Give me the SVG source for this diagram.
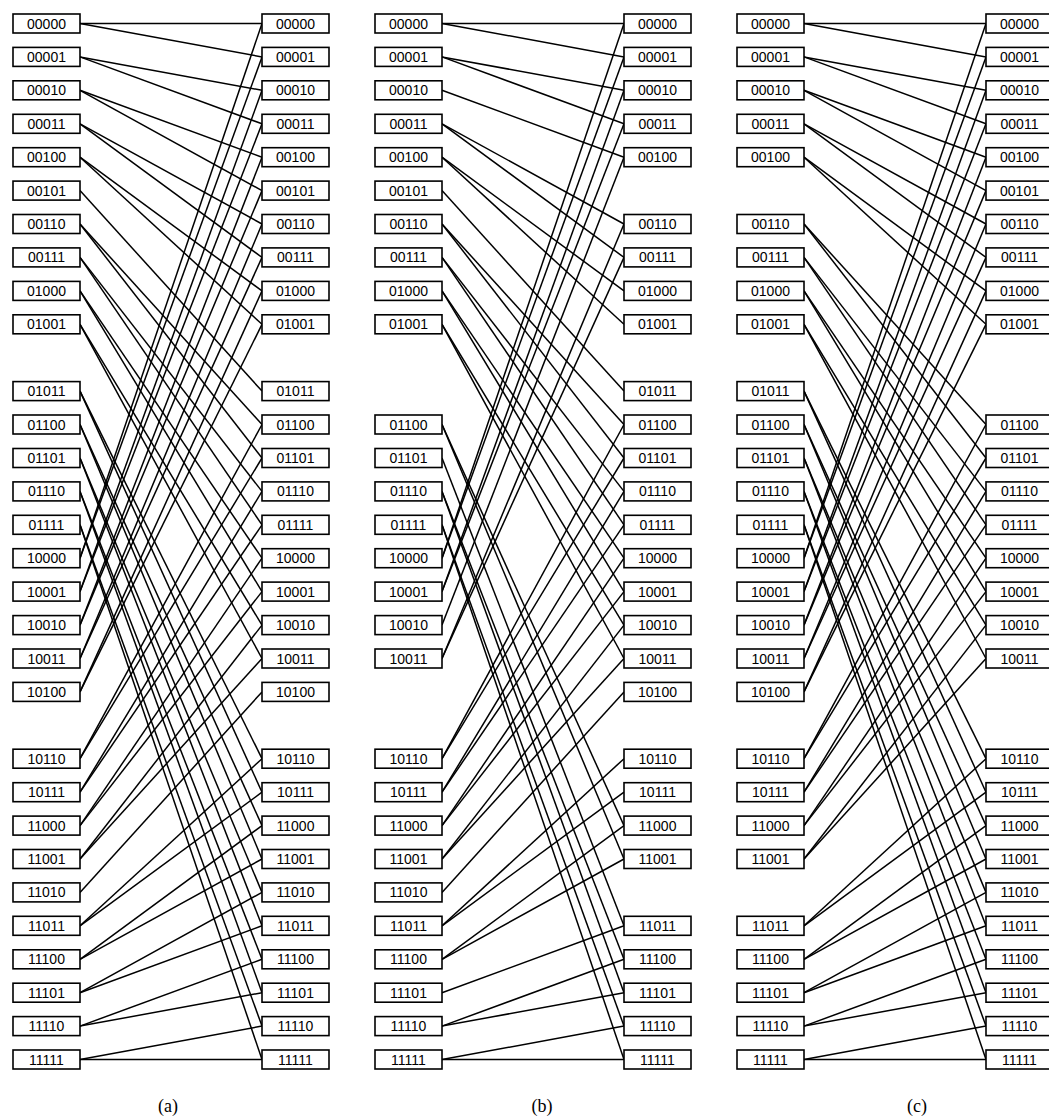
<svg xmlns="http://www.w3.org/2000/svg" width="1049" height="1119" viewBox="0 0 1049 1119">
<style>
.edges path{fill:none;stroke:#000;stroke-width:1.5}
.node rect{fill:#fff;stroke:#000;stroke-width:1.6}
.node text{font-family:"Liberation Sans",Arial,sans-serif;font-size:14px;text-anchor:middle;fill:#000}
.cap{font-family:"Liberation Serif","Times New Roman",serif;font-size:18px;text-anchor:middle;fill:#000}
</style>
<rect width="1049" height="1119" fill="#fff"/>

<g id="panel-a">
<g id="a-edges" class="edges">
<path d="M80 23.5L262 23.5"/><path d="M80 23.5L262 56.9"/>
<path d="M80 56.9L262 90.3"/><path d="M80 56.9L262 123.8"/>
<path d="M80 90.3L262 157.2"/><path d="M80 90.3L262 190.6"/>
<path d="M80 123.8L262 224"/><path d="M80 123.8L262 257.4"/>
<path d="M80 157.2L262 290.9"/><path d="M80 157.2L262 324.3"/>
<path d="M80 190.6L262 391.1"/>
<path d="M80 224L262 424.5"/><path d="M80 224L262 458"/>
<path d="M80 257.4L262 491.4"/><path d="M80 257.4L262 524.8"/>
<path d="M80 290.9L262 558.2"/><path d="M80 290.9L262 591.6"/>
<path d="M80 324.3L262 625.1"/><path d="M80 324.3L262 658.5"/>
<path d="M80 391.1L262 758.7"/><path d="M80 391.1L262 792.2"/>
<path d="M80 424.5L262 825.6"/><path d="M80 424.5L262 859"/>
<path d="M80 458L262 892.4"/><path d="M80 458L262 925.8"/>
<path d="M80 491.4L262 959.3"/><path d="M80 491.4L262 992.7"/>
<path d="M80 524.8L262 1026.1"/><path d="M80 524.8L262 1059.5"/>
<path d="M80 558.2L262 23.5"/><path d="M80 558.2L262 56.9"/>
<path d="M80 591.6L262 90.3"/><path d="M80 591.6L262 123.8"/>
<path d="M80 625.1L262 157.2"/><path d="M80 625.1L262 190.6"/>
<path d="M80 658.5L262 224"/><path d="M80 658.5L262 257.4"/>
<path d="M80 691.9L262 290.9"/><path d="M80 691.9L262 324.3"/>
<path d="M80 758.7L262 424.5"/><path d="M80 758.7L262 458"/>
<path d="M80 792.2L262 491.4"/><path d="M80 792.2L262 524.8"/>
<path d="M80 825.6L262 558.2"/><path d="M80 825.6L262 591.6"/>
<path d="M80 859L262 625.1"/><path d="M80 859L262 658.5"/>
<path d="M80 892.4L262 691.9"/>
<path d="M80 925.8L262 758.7"/><path d="M80 925.8L262 792.2"/>
<path d="M80 959.3L262 825.6"/><path d="M80 959.3L262 859"/>
<path d="M80 992.7L262 892.4"/><path d="M80 992.7L262 925.8"/>
<path d="M80 1026.1L262 959.3"/><path d="M80 1026.1L262 992.7"/>
<path d="M80 1059.5L262 1026.1"/><path d="M80 1059.5L262 1059.5"/>
</g>
<g id="a-in-00000" class="node" transform="translate(13,14)"><rect width="67" height="19"/><text x="33.5" y="14.5">00000</text></g>
<g id="a-in-00001" class="node" transform="translate(13,47.4)"><rect width="67" height="19"/><text x="33.5" y="14.5">00001</text></g>
<g id="a-in-00010" class="node" transform="translate(13,80.8)"><rect width="67" height="19"/><text x="33.5" y="14.5">00010</text></g>
<g id="a-in-00011" class="node" transform="translate(13,114.3)"><rect width="67" height="19"/><text x="33.5" y="14.5">00011</text></g>
<g id="a-in-00100" class="node" transform="translate(13,147.7)"><rect width="67" height="19"/><text x="33.5" y="14.5">00100</text></g>
<g id="a-in-00101" class="node" transform="translate(13,181.1)"><rect width="67" height="19"/><text x="33.5" y="14.5">00101</text></g>
<g id="a-in-00110" class="node" transform="translate(13,214.5)"><rect width="67" height="19"/><text x="33.5" y="14.5">00110</text></g>
<g id="a-in-00111" class="node" transform="translate(13,247.9)"><rect width="67" height="19"/><text x="33.5" y="14.5">00111</text></g>
<g id="a-in-01000" class="node" transform="translate(13,281.4)"><rect width="67" height="19"/><text x="33.5" y="14.5">01000</text></g>
<g id="a-in-01001" class="node" transform="translate(13,314.8)"><rect width="67" height="19"/><text x="33.5" y="14.5">01001</text></g>
<g id="a-in-01011" class="node" transform="translate(13,381.6)"><rect width="67" height="19"/><text x="33.5" y="14.5">01011</text></g>
<g id="a-in-01100" class="node" transform="translate(13,415)"><rect width="67" height="19"/><text x="33.5" y="14.5">01100</text></g>
<g id="a-in-01101" class="node" transform="translate(13,448.5)"><rect width="67" height="19"/><text x="33.5" y="14.5">01101</text></g>
<g id="a-in-01110" class="node" transform="translate(13,481.9)"><rect width="67" height="19"/><text x="33.5" y="14.5">01110</text></g>
<g id="a-in-01111" class="node" transform="translate(13,515.3)"><rect width="67" height="19"/><text x="33.5" y="14.5">01111</text></g>
<g id="a-in-10000" class="node" transform="translate(13,548.7)"><rect width="67" height="19"/><text x="33.5" y="14.5">10000</text></g>
<g id="a-in-10001" class="node" transform="translate(13,582.1)"><rect width="67" height="19"/><text x="33.5" y="14.5">10001</text></g>
<g id="a-in-10010" class="node" transform="translate(13,615.6)"><rect width="67" height="19"/><text x="33.5" y="14.5">10010</text></g>
<g id="a-in-10011" class="node" transform="translate(13,649)"><rect width="67" height="19"/><text x="33.5" y="14.5">10011</text></g>
<g id="a-in-10100" class="node" transform="translate(13,682.4)"><rect width="67" height="19"/><text x="33.5" y="14.5">10100</text></g>
<g id="a-in-10110" class="node" transform="translate(13,749.2)"><rect width="67" height="19"/><text x="33.5" y="14.5">10110</text></g>
<g id="a-in-10111" class="node" transform="translate(13,782.7)"><rect width="67" height="19"/><text x="33.5" y="14.5">10111</text></g>
<g id="a-in-11000" class="node" transform="translate(13,816.1)"><rect width="67" height="19"/><text x="33.5" y="14.5">11000</text></g>
<g id="a-in-11001" class="node" transform="translate(13,849.5)"><rect width="67" height="19"/><text x="33.5" y="14.5">11001</text></g>
<g id="a-in-11010" class="node" transform="translate(13,882.9)"><rect width="67" height="19"/><text x="33.5" y="14.5">11010</text></g>
<g id="a-in-11011" class="node" transform="translate(13,916.3)"><rect width="67" height="19"/><text x="33.5" y="14.5">11011</text></g>
<g id="a-in-11100" class="node" transform="translate(13,949.8)"><rect width="67" height="19"/><text x="33.5" y="14.5">11100</text></g>
<g id="a-in-11101" class="node" transform="translate(13,983.2)"><rect width="67" height="19"/><text x="33.5" y="14.5">11101</text></g>
<g id="a-in-11110" class="node" transform="translate(13,1016.6)"><rect width="67" height="19"/><text x="33.5" y="14.5">11110</text></g>
<g id="a-in-11111" class="node" transform="translate(13,1050)"><rect width="67" height="19"/><text x="33.5" y="14.5">11111</text></g>

<g id="a-out-00000" class="node" transform="translate(262,14)"><rect width="67" height="19"/><text x="33.5" y="14.5">00000</text></g>
<g id="a-out-00001" class="node" transform="translate(262,47.4)"><rect width="67" height="19"/><text x="33.5" y="14.5">00001</text></g>
<g id="a-out-00010" class="node" transform="translate(262,80.8)"><rect width="67" height="19"/><text x="33.5" y="14.5">00010</text></g>
<g id="a-out-00011" class="node" transform="translate(262,114.3)"><rect width="67" height="19"/><text x="33.5" y="14.5">00011</text></g>
<g id="a-out-00100" class="node" transform="translate(262,147.7)"><rect width="67" height="19"/><text x="33.5" y="14.5">00100</text></g>
<g id="a-out-00101" class="node" transform="translate(262,181.1)"><rect width="67" height="19"/><text x="33.5" y="14.5">00101</text></g>
<g id="a-out-00110" class="node" transform="translate(262,214.5)"><rect width="67" height="19"/><text x="33.5" y="14.5">00110</text></g>
<g id="a-out-00111" class="node" transform="translate(262,247.9)"><rect width="67" height="19"/><text x="33.5" y="14.5">00111</text></g>
<g id="a-out-01000" class="node" transform="translate(262,281.4)"><rect width="67" height="19"/><text x="33.5" y="14.5">01000</text></g>
<g id="a-out-01001" class="node" transform="translate(262,314.8)"><rect width="67" height="19"/><text x="33.5" y="14.5">01001</text></g>
<g id="a-out-01011" class="node" transform="translate(262,381.6)"><rect width="67" height="19"/><text x="33.5" y="14.5">01011</text></g>
<g id="a-out-01100" class="node" transform="translate(262,415)"><rect width="67" height="19"/><text x="33.5" y="14.5">01100</text></g>
<g id="a-out-01101" class="node" transform="translate(262,448.5)"><rect width="67" height="19"/><text x="33.5" y="14.5">01101</text></g>
<g id="a-out-01110" class="node" transform="translate(262,481.9)"><rect width="67" height="19"/><text x="33.5" y="14.5">01110</text></g>
<g id="a-out-01111" class="node" transform="translate(262,515.3)"><rect width="67" height="19"/><text x="33.5" y="14.5">01111</text></g>
<g id="a-out-10000" class="node" transform="translate(262,548.7)"><rect width="67" height="19"/><text x="33.5" y="14.5">10000</text></g>
<g id="a-out-10001" class="node" transform="translate(262,582.1)"><rect width="67" height="19"/><text x="33.5" y="14.5">10001</text></g>
<g id="a-out-10010" class="node" transform="translate(262,615.6)"><rect width="67" height="19"/><text x="33.5" y="14.5">10010</text></g>
<g id="a-out-10011" class="node" transform="translate(262,649)"><rect width="67" height="19"/><text x="33.5" y="14.5">10011</text></g>
<g id="a-out-10100" class="node" transform="translate(262,682.4)"><rect width="67" height="19"/><text x="33.5" y="14.5">10100</text></g>
<g id="a-out-10110" class="node" transform="translate(262,749.2)"><rect width="67" height="19"/><text x="33.5" y="14.5">10110</text></g>
<g id="a-out-10111" class="node" transform="translate(262,782.7)"><rect width="67" height="19"/><text x="33.5" y="14.5">10111</text></g>
<g id="a-out-11000" class="node" transform="translate(262,816.1)"><rect width="67" height="19"/><text x="33.5" y="14.5">11000</text></g>
<g id="a-out-11001" class="node" transform="translate(262,849.5)"><rect width="67" height="19"/><text x="33.5" y="14.5">11001</text></g>
<g id="a-out-11010" class="node" transform="translate(262,882.9)"><rect width="67" height="19"/><text x="33.5" y="14.5">11010</text></g>
<g id="a-out-11011" class="node" transform="translate(262,916.3)"><rect width="67" height="19"/><text x="33.5" y="14.5">11011</text></g>
<g id="a-out-11100" class="node" transform="translate(262,949.8)"><rect width="67" height="19"/><text x="33.5" y="14.5">11100</text></g>
<g id="a-out-11101" class="node" transform="translate(262,983.2)"><rect width="67" height="19"/><text x="33.5" y="14.5">11101</text></g>
<g id="a-out-11110" class="node" transform="translate(262,1016.6)"><rect width="67" height="19"/><text x="33.5" y="14.5">11110</text></g>
<g id="a-out-11111" class="node" transform="translate(262,1050)"><rect width="67" height="19"/><text x="33.5" y="14.5">11111</text></g>
<text id="label-a" class="cap" x="168" y="1112">(a)</text>
</g>

<g id="panel-b" transform="translate(362,0)">
<g id="b-edges" class="edges">
<path d="M80 23.5L262 23.5"/><path d="M80 23.5L262 56.9"/>
<path d="M80 56.9L262 90.3"/><path d="M80 56.9L262 123.8"/>
<path d="M80 90.3L262 157.2"/>
<path d="M80 123.8L262 224"/><path d="M80 123.8L262 257.4"/>
<path d="M80 157.2L262 290.9"/><path d="M80 157.2L262 324.3"/>
<path d="M80 190.6L262 391.1"/>
<path d="M80 224L262 424.5"/><path d="M80 224L262 458"/>
<path d="M80 257.4L262 491.4"/><path d="M80 257.4L262 524.8"/>
<path d="M80 290.9L262 558.2"/><path d="M80 290.9L262 591.6"/>
<path d="M80 324.3L262 625.1"/><path d="M80 324.3L262 658.5"/>
<path d="M80 424.5L262 825.6"/><path d="M80 424.5L262 859"/>
<path d="M80 458L262 925.8"/>
<path d="M80 491.4L262 959.3"/><path d="M80 491.4L262 992.7"/>
<path d="M80 524.8L262 1026.1"/><path d="M80 524.8L262 1059.5"/>
<path d="M80 558.2L262 23.5"/><path d="M80 558.2L262 56.9"/>
<path d="M80 591.6L262 90.3"/><path d="M80 591.6L262 123.8"/>
<path d="M80 625.1L262 157.2"/>
<path d="M80 658.5L262 224"/><path d="M80 658.5L262 257.4"/>
<path d="M80 758.7L262 424.5"/><path d="M80 758.7L262 458"/>
<path d="M80 792.2L262 491.4"/><path d="M80 792.2L262 524.8"/>
<path d="M80 825.6L262 558.2"/><path d="M80 825.6L262 591.6"/>
<path d="M80 859L262 625.1"/><path d="M80 859L262 658.5"/>
<path d="M80 892.4L262 691.9"/>
<path d="M80 925.8L262 758.7"/><path d="M80 925.8L262 792.2"/>
<path d="M80 959.3L262 825.6"/><path d="M80 959.3L262 859"/>
<path d="M80 992.7L262 925.8"/>
<path d="M80 1026.1L262 959.3"/><path d="M80 1026.1L262 992.7"/>
<path d="M80 1059.5L262 1026.1"/><path d="M80 1059.5L262 1059.5"/>
</g>
<g id="b-in-00000" class="node" transform="translate(13,14)"><rect width="67" height="19"/><text x="33.5" y="14.5">00000</text></g>
<g id="b-in-00001" class="node" transform="translate(13,47.4)"><rect width="67" height="19"/><text x="33.5" y="14.5">00001</text></g>
<g id="b-in-00010" class="node" transform="translate(13,80.8)"><rect width="67" height="19"/><text x="33.5" y="14.5">00010</text></g>
<g id="b-in-00011" class="node" transform="translate(13,114.3)"><rect width="67" height="19"/><text x="33.5" y="14.5">00011</text></g>
<g id="b-in-00100" class="node" transform="translate(13,147.7)"><rect width="67" height="19"/><text x="33.5" y="14.5">00100</text></g>
<g id="b-in-00101" class="node" transform="translate(13,181.1)"><rect width="67" height="19"/><text x="33.5" y="14.5">00101</text></g>
<g id="b-in-00110" class="node" transform="translate(13,214.5)"><rect width="67" height="19"/><text x="33.5" y="14.5">00110</text></g>
<g id="b-in-00111" class="node" transform="translate(13,247.9)"><rect width="67" height="19"/><text x="33.5" y="14.5">00111</text></g>
<g id="b-in-01000" class="node" transform="translate(13,281.4)"><rect width="67" height="19"/><text x="33.5" y="14.5">01000</text></g>
<g id="b-in-01001" class="node" transform="translate(13,314.8)"><rect width="67" height="19"/><text x="33.5" y="14.5">01001</text></g>
<g id="b-in-01100" class="node" transform="translate(13,415)"><rect width="67" height="19"/><text x="33.5" y="14.5">01100</text></g>
<g id="b-in-01101" class="node" transform="translate(13,448.5)"><rect width="67" height="19"/><text x="33.5" y="14.5">01101</text></g>
<g id="b-in-01110" class="node" transform="translate(13,481.9)"><rect width="67" height="19"/><text x="33.5" y="14.5">01110</text></g>
<g id="b-in-01111" class="node" transform="translate(13,515.3)"><rect width="67" height="19"/><text x="33.5" y="14.5">01111</text></g>
<g id="b-in-10000" class="node" transform="translate(13,548.7)"><rect width="67" height="19"/><text x="33.5" y="14.5">10000</text></g>
<g id="b-in-10001" class="node" transform="translate(13,582.1)"><rect width="67" height="19"/><text x="33.5" y="14.5">10001</text></g>
<g id="b-in-10010" class="node" transform="translate(13,615.6)"><rect width="67" height="19"/><text x="33.5" y="14.5">10010</text></g>
<g id="b-in-10011" class="node" transform="translate(13,649)"><rect width="67" height="19"/><text x="33.5" y="14.5">10011</text></g>
<g id="b-in-10110" class="node" transform="translate(13,749.2)"><rect width="67" height="19"/><text x="33.5" y="14.5">10110</text></g>
<g id="b-in-10111" class="node" transform="translate(13,782.7)"><rect width="67" height="19"/><text x="33.5" y="14.5">10111</text></g>
<g id="b-in-11000" class="node" transform="translate(13,816.1)"><rect width="67" height="19"/><text x="33.5" y="14.5">11000</text></g>
<g id="b-in-11001" class="node" transform="translate(13,849.5)"><rect width="67" height="19"/><text x="33.5" y="14.5">11001</text></g>
<g id="b-in-11010" class="node" transform="translate(13,882.9)"><rect width="67" height="19"/><text x="33.5" y="14.5">11010</text></g>
<g id="b-in-11011" class="node" transform="translate(13,916.3)"><rect width="67" height="19"/><text x="33.5" y="14.5">11011</text></g>
<g id="b-in-11100" class="node" transform="translate(13,949.8)"><rect width="67" height="19"/><text x="33.5" y="14.5">11100</text></g>
<g id="b-in-11101" class="node" transform="translate(13,983.2)"><rect width="67" height="19"/><text x="33.5" y="14.5">11101</text></g>
<g id="b-in-11110" class="node" transform="translate(13,1016.6)"><rect width="67" height="19"/><text x="33.5" y="14.5">11110</text></g>
<g id="b-in-11111" class="node" transform="translate(13,1050)"><rect width="67" height="19"/><text x="33.5" y="14.5">11111</text></g>

<g id="b-out-00000" class="node" transform="translate(262,14)"><rect width="67" height="19"/><text x="33.5" y="14.5">00000</text></g>
<g id="b-out-00001" class="node" transform="translate(262,47.4)"><rect width="67" height="19"/><text x="33.5" y="14.5">00001</text></g>
<g id="b-out-00010" class="node" transform="translate(262,80.8)"><rect width="67" height="19"/><text x="33.5" y="14.5">00010</text></g>
<g id="b-out-00011" class="node" transform="translate(262,114.3)"><rect width="67" height="19"/><text x="33.5" y="14.5">00011</text></g>
<g id="b-out-00100" class="node" transform="translate(262,147.7)"><rect width="67" height="19"/><text x="33.5" y="14.5">00100</text></g>
<g id="b-out-00110" class="node" transform="translate(262,214.5)"><rect width="67" height="19"/><text x="33.5" y="14.5">00110</text></g>
<g id="b-out-00111" class="node" transform="translate(262,247.9)"><rect width="67" height="19"/><text x="33.5" y="14.5">00111</text></g>
<g id="b-out-01000" class="node" transform="translate(262,281.4)"><rect width="67" height="19"/><text x="33.5" y="14.5">01000</text></g>
<g id="b-out-01001" class="node" transform="translate(262,314.8)"><rect width="67" height="19"/><text x="33.5" y="14.5">01001</text></g>
<g id="b-out-01011" class="node" transform="translate(262,381.6)"><rect width="67" height="19"/><text x="33.5" y="14.5">01011</text></g>
<g id="b-out-01100" class="node" transform="translate(262,415)"><rect width="67" height="19"/><text x="33.5" y="14.5">01100</text></g>
<g id="b-out-01101" class="node" transform="translate(262,448.5)"><rect width="67" height="19"/><text x="33.5" y="14.5">01101</text></g>
<g id="b-out-01110" class="node" transform="translate(262,481.9)"><rect width="67" height="19"/><text x="33.5" y="14.5">01110</text></g>
<g id="b-out-01111" class="node" transform="translate(262,515.3)"><rect width="67" height="19"/><text x="33.5" y="14.5">01111</text></g>
<g id="b-out-10000" class="node" transform="translate(262,548.7)"><rect width="67" height="19"/><text x="33.5" y="14.5">10000</text></g>
<g id="b-out-10001" class="node" transform="translate(262,582.1)"><rect width="67" height="19"/><text x="33.5" y="14.5">10001</text></g>
<g id="b-out-10010" class="node" transform="translate(262,615.6)"><rect width="67" height="19"/><text x="33.5" y="14.5">10010</text></g>
<g id="b-out-10011" class="node" transform="translate(262,649)"><rect width="67" height="19"/><text x="33.5" y="14.5">10011</text></g>
<g id="b-out-10100" class="node" transform="translate(262,682.4)"><rect width="67" height="19"/><text x="33.5" y="14.5">10100</text></g>
<g id="b-out-10110" class="node" transform="translate(262,749.2)"><rect width="67" height="19"/><text x="33.5" y="14.5">10110</text></g>
<g id="b-out-10111" class="node" transform="translate(262,782.7)"><rect width="67" height="19"/><text x="33.5" y="14.5">10111</text></g>
<g id="b-out-11000" class="node" transform="translate(262,816.1)"><rect width="67" height="19"/><text x="33.5" y="14.5">11000</text></g>
<g id="b-out-11001" class="node" transform="translate(262,849.5)"><rect width="67" height="19"/><text x="33.5" y="14.5">11001</text></g>
<g id="b-out-11011" class="node" transform="translate(262,916.3)"><rect width="67" height="19"/><text x="33.5" y="14.5">11011</text></g>
<g id="b-out-11100" class="node" transform="translate(262,949.8)"><rect width="67" height="19"/><text x="33.5" y="14.5">11100</text></g>
<g id="b-out-11101" class="node" transform="translate(262,983.2)"><rect width="67" height="19"/><text x="33.5" y="14.5">11101</text></g>
<g id="b-out-11110" class="node" transform="translate(262,1016.6)"><rect width="67" height="19"/><text x="33.5" y="14.5">11110</text></g>
<g id="b-out-11111" class="node" transform="translate(262,1050)"><rect width="67" height="19"/><text x="33.5" y="14.5">11111</text></g>
<text id="label-b" class="cap" x="180" y="1112">(b)</text>
</g>

<g id="panel-c" transform="translate(724,0)">
<g id="c-edges" class="edges">
<path d="M80 23.5L262 23.5"/><path d="M80 23.5L262 56.9"/>
<path d="M80 56.9L262 90.3"/><path d="M80 56.9L262 123.8"/>
<path d="M80 90.3L262 157.2"/><path d="M80 90.3L262 190.6"/>
<path d="M80 123.8L262 224"/><path d="M80 123.8L262 257.4"/>
<path d="M80 157.2L262 290.9"/><path d="M80 157.2L262 324.3"/>
<path d="M80 224L262 424.5"/><path d="M80 224L262 458"/>
<path d="M80 257.4L262 491.4"/><path d="M80 257.4L262 524.8"/>
<path d="M80 290.9L262 558.2"/><path d="M80 290.9L262 591.6"/>
<path d="M80 324.3L262 625.1"/><path d="M80 324.3L262 658.5"/>
<path d="M80 391.1L262 758.7"/><path d="M80 391.1L262 792.2"/>
<path d="M80 424.5L262 825.6"/><path d="M80 424.5L262 859"/>
<path d="M80 458L262 892.4"/><path d="M80 458L262 925.8"/>
<path d="M80 491.4L262 959.3"/><path d="M80 491.4L262 992.7"/>
<path d="M80 524.8L262 1026.1"/><path d="M80 524.8L262 1059.5"/>
<path d="M80 558.2L262 23.5"/><path d="M80 558.2L262 56.9"/>
<path d="M80 591.6L262 90.3"/><path d="M80 591.6L262 123.8"/>
<path d="M80 625.1L262 157.2"/><path d="M80 625.1L262 190.6"/>
<path d="M80 658.5L262 224"/><path d="M80 658.5L262 257.4"/>
<path d="M80 691.9L262 290.9"/><path d="M80 691.9L262 324.3"/>
<path d="M80 758.7L262 424.5"/><path d="M80 758.7L262 458"/>
<path d="M80 792.2L262 491.4"/><path d="M80 792.2L262 524.8"/>
<path d="M80 825.6L262 558.2"/><path d="M80 825.6L262 591.6"/>
<path d="M80 859L262 625.1"/><path d="M80 859L262 658.5"/>
<path d="M80 925.8L262 758.7"/><path d="M80 925.8L262 792.2"/>
<path d="M80 959.3L262 825.6"/><path d="M80 959.3L262 859"/>
<path d="M80 992.7L262 892.4"/><path d="M80 992.7L262 925.8"/>
<path d="M80 1026.1L262 959.3"/><path d="M80 1026.1L262 992.7"/>
<path d="M80 1059.5L262 1026.1"/><path d="M80 1059.5L262 1059.5"/>
</g>
<g id="c-in-00000" class="node" transform="translate(13,14)"><rect width="67" height="19"/><text x="33.5" y="14.5">00000</text></g>
<g id="c-in-00001" class="node" transform="translate(13,47.4)"><rect width="67" height="19"/><text x="33.5" y="14.5">00001</text></g>
<g id="c-in-00010" class="node" transform="translate(13,80.8)"><rect width="67" height="19"/><text x="33.5" y="14.5">00010</text></g>
<g id="c-in-00011" class="node" transform="translate(13,114.3)"><rect width="67" height="19"/><text x="33.5" y="14.5">00011</text></g>
<g id="c-in-00100" class="node" transform="translate(13,147.7)"><rect width="67" height="19"/><text x="33.5" y="14.5">00100</text></g>
<g id="c-in-00110" class="node" transform="translate(13,214.5)"><rect width="67" height="19"/><text x="33.5" y="14.5">00110</text></g>
<g id="c-in-00111" class="node" transform="translate(13,247.9)"><rect width="67" height="19"/><text x="33.5" y="14.5">00111</text></g>
<g id="c-in-01000" class="node" transform="translate(13,281.4)"><rect width="67" height="19"/><text x="33.5" y="14.5">01000</text></g>
<g id="c-in-01001" class="node" transform="translate(13,314.8)"><rect width="67" height="19"/><text x="33.5" y="14.5">01001</text></g>
<g id="c-in-01011" class="node" transform="translate(13,381.6)"><rect width="67" height="19"/><text x="33.5" y="14.5">01011</text></g>
<g id="c-in-01100" class="node" transform="translate(13,415)"><rect width="67" height="19"/><text x="33.5" y="14.5">01100</text></g>
<g id="c-in-01101" class="node" transform="translate(13,448.5)"><rect width="67" height="19"/><text x="33.5" y="14.5">01101</text></g>
<g id="c-in-01110" class="node" transform="translate(13,481.9)"><rect width="67" height="19"/><text x="33.5" y="14.5">01110</text></g>
<g id="c-in-01111" class="node" transform="translate(13,515.3)"><rect width="67" height="19"/><text x="33.5" y="14.5">01111</text></g>
<g id="c-in-10000" class="node" transform="translate(13,548.7)"><rect width="67" height="19"/><text x="33.5" y="14.5">10000</text></g>
<g id="c-in-10001" class="node" transform="translate(13,582.1)"><rect width="67" height="19"/><text x="33.5" y="14.5">10001</text></g>
<g id="c-in-10010" class="node" transform="translate(13,615.6)"><rect width="67" height="19"/><text x="33.5" y="14.5">10010</text></g>
<g id="c-in-10011" class="node" transform="translate(13,649)"><rect width="67" height="19"/><text x="33.5" y="14.5">10011</text></g>
<g id="c-in-10100" class="node" transform="translate(13,682.4)"><rect width="67" height="19"/><text x="33.5" y="14.5">10100</text></g>
<g id="c-in-10110" class="node" transform="translate(13,749.2)"><rect width="67" height="19"/><text x="33.5" y="14.5">10110</text></g>
<g id="c-in-10111" class="node" transform="translate(13,782.7)"><rect width="67" height="19"/><text x="33.5" y="14.5">10111</text></g>
<g id="c-in-11000" class="node" transform="translate(13,816.1)"><rect width="67" height="19"/><text x="33.5" y="14.5">11000</text></g>
<g id="c-in-11001" class="node" transform="translate(13,849.5)"><rect width="67" height="19"/><text x="33.5" y="14.5">11001</text></g>
<g id="c-in-11011" class="node" transform="translate(13,916.3)"><rect width="67" height="19"/><text x="33.5" y="14.5">11011</text></g>
<g id="c-in-11100" class="node" transform="translate(13,949.8)"><rect width="67" height="19"/><text x="33.5" y="14.5">11100</text></g>
<g id="c-in-11101" class="node" transform="translate(13,983.2)"><rect width="67" height="19"/><text x="33.5" y="14.5">11101</text></g>
<g id="c-in-11110" class="node" transform="translate(13,1016.6)"><rect width="67" height="19"/><text x="33.5" y="14.5">11110</text></g>
<g id="c-in-11111" class="node" transform="translate(13,1050)"><rect width="67" height="19"/><text x="33.5" y="14.5">11111</text></g>

<g id="c-out-00000" class="node" transform="translate(262,14)"><rect width="67" height="19"/><text x="33.5" y="14.5">00000</text></g>
<g id="c-out-00001" class="node" transform="translate(262,47.4)"><rect width="67" height="19"/><text x="33.5" y="14.5">00001</text></g>
<g id="c-out-00010" class="node" transform="translate(262,80.8)"><rect width="67" height="19"/><text x="33.5" y="14.5">00010</text></g>
<g id="c-out-00011" class="node" transform="translate(262,114.3)"><rect width="67" height="19"/><text x="33.5" y="14.5">00011</text></g>
<g id="c-out-00100" class="node" transform="translate(262,147.7)"><rect width="67" height="19"/><text x="33.5" y="14.5">00100</text></g>
<g id="c-out-00101" class="node" transform="translate(262,181.1)"><rect width="67" height="19"/><text x="33.5" y="14.5">00101</text></g>
<g id="c-out-00110" class="node" transform="translate(262,214.5)"><rect width="67" height="19"/><text x="33.5" y="14.5">00110</text></g>
<g id="c-out-00111" class="node" transform="translate(262,247.9)"><rect width="67" height="19"/><text x="33.5" y="14.5">00111</text></g>
<g id="c-out-01000" class="node" transform="translate(262,281.4)"><rect width="67" height="19"/><text x="33.5" y="14.5">01000</text></g>
<g id="c-out-01001" class="node" transform="translate(262,314.8)"><rect width="67" height="19"/><text x="33.5" y="14.5">01001</text></g>
<g id="c-out-01100" class="node" transform="translate(262,415)"><rect width="67" height="19"/><text x="33.5" y="14.5">01100</text></g>
<g id="c-out-01101" class="node" transform="translate(262,448.5)"><rect width="67" height="19"/><text x="33.5" y="14.5">01101</text></g>
<g id="c-out-01110" class="node" transform="translate(262,481.9)"><rect width="67" height="19"/><text x="33.5" y="14.5">01110</text></g>
<g id="c-out-01111" class="node" transform="translate(262,515.3)"><rect width="67" height="19"/><text x="33.5" y="14.5">01111</text></g>
<g id="c-out-10000" class="node" transform="translate(262,548.7)"><rect width="67" height="19"/><text x="33.5" y="14.5">10000</text></g>
<g id="c-out-10001" class="node" transform="translate(262,582.1)"><rect width="67" height="19"/><text x="33.5" y="14.5">10001</text></g>
<g id="c-out-10010" class="node" transform="translate(262,615.6)"><rect width="67" height="19"/><text x="33.5" y="14.5">10010</text></g>
<g id="c-out-10011" class="node" transform="translate(262,649)"><rect width="67" height="19"/><text x="33.5" y="14.5">10011</text></g>
<g id="c-out-10110" class="node" transform="translate(262,749.2)"><rect width="67" height="19"/><text x="33.5" y="14.5">10110</text></g>
<g id="c-out-10111" class="node" transform="translate(262,782.7)"><rect width="67" height="19"/><text x="33.5" y="14.5">10111</text></g>
<g id="c-out-11000" class="node" transform="translate(262,816.1)"><rect width="67" height="19"/><text x="33.5" y="14.5">11000</text></g>
<g id="c-out-11001" class="node" transform="translate(262,849.5)"><rect width="67" height="19"/><text x="33.5" y="14.5">11001</text></g>
<g id="c-out-11010" class="node" transform="translate(262,882.9)"><rect width="67" height="19"/><text x="33.5" y="14.5">11010</text></g>
<g id="c-out-11011" class="node" transform="translate(262,916.3)"><rect width="67" height="19"/><text x="33.5" y="14.5">11011</text></g>
<g id="c-out-11100" class="node" transform="translate(262,949.8)"><rect width="67" height="19"/><text x="33.5" y="14.5">11100</text></g>
<g id="c-out-11101" class="node" transform="translate(262,983.2)"><rect width="67" height="19"/><text x="33.5" y="14.5">11101</text></g>
<g id="c-out-11110" class="node" transform="translate(262,1016.6)"><rect width="67" height="19"/><text x="33.5" y="14.5">11110</text></g>
<g id="c-out-11111" class="node" transform="translate(262,1050)"><rect width="67" height="19"/><text x="33.5" y="14.5">11111</text></g>
<text id="label-c" class="cap" x="193" y="1112">(c)</text>
</g>
</svg>
